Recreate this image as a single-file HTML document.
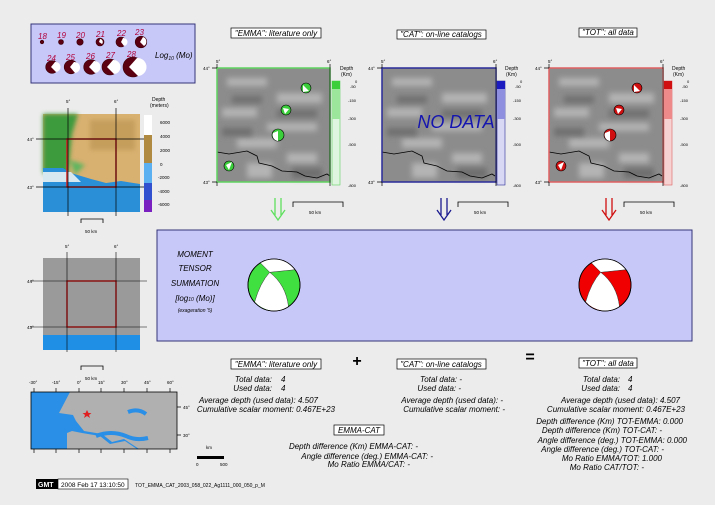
<!DOCTYPE html>
<html><head><meta charset="utf-8"><style>
html,body{margin:0;padding:0;background:#ececec;}
svg{display:block;font-family:"Liberation Sans",sans-serif;}
.i{font-style:italic;}
</style></head><body>
<svg width="715" height="505" viewBox="0 0 715 505" xmlns="http://www.w3.org/2000/svg">
<defs>
<filter id="bl"><feGaussianBlur stdDeviation="3"/></filter>
<filter id="bl2"><feGaussianBlur stdDeviation="2"/></filter>
<g id="gmap">
<rect x="0" y="0" width="113" height="114" fill="#8c8c8c"/>
<g filter="url(#bl)" fill="#b4b4b4">
<rect x="10" y="10" width="40" height="8"/><rect x="60" y="25" width="45" height="10"/>
<rect x="5" y="40" width="35" height="9"/><rect x="50" y="55" width="50" height="8"/>
<rect x="20" y="70" width="40" height="10"/><rect x="70" y="85" width="30" height="10"/>
<rect x="30" y="95" width="25" height="15"/>
</g>
<g filter="url(#bl)" fill="#6e6e6e">
<rect x="15" y="28" width="30" height="7"/><rect x="60" y="42" width="40" height="7"/>
<rect x="5" y="60" width="30" height="8"/><rect x="75" y="100" width="30" height="10"/>
</g>
<path d="M0,84 L12,86 L30,83 L40,88 L42,95 L55,98 L65,103 L80,104 L88,108 L100,110 L110,106 L113,108" fill="none" stroke="#000" stroke-width="0.8"/>
</g>
<g id="bb">
<circle r="26" stroke="#000" stroke-width="0.8"/>
<path d="M-13.6,-22.1 A26,26 0 0 1 21,-15.3 L-4.3,-12.7 Z" fill="#fff"/>
<path d="M-19.3,16.7 Q-14,-2 -4.3,-12.7 Q12,0 14.5,21.6 A26,26 0 0 1 -19.3,16.7 Z" fill="#fff"/>
<path d="M-13.6,-22.1 L-4.3,-12.7 L21,-15.3 M-19.3,16.7 Q-14,-2 -4.3,-12.7 Q12,0 14.5,21.6" fill="none" stroke="#333" stroke-width="0.5"/>
<circle r="26" fill="none" stroke="#000" stroke-width="0.8"/>
</g>
</defs>

<!-- legend box -->
<rect x="31" y="24" width="164" height="59" fill="#c8c8f8" stroke="#33337a" stroke-width="1"/>
<g font-size="8" fill="#b0003a" class="i">
<text x="38" y="39">18</text><text x="57" y="38">19</text><text x="76" y="38">20</text><text x="96" y="37">21</text><text x="117" y="36">22</text><text x="135" y="35">23</text>
<text x="47" y="61">24</text><text x="66" y="60">25</text><text x="86" y="59">26</text><text x="106" y="58">27</text><text x="127" y="57">28</text>
</g>
<g fill="#5a0010" stroke="#3a0008" stroke-width="0.6">
<circle cx="42" cy="42" r="1.8"/><circle cx="61" cy="42" r="2.5"/><circle cx="80" cy="42" r="3.2"/><circle cx="100" cy="42" r="4"/><circle cx="121" cy="42" r="5"/><circle cx="141" cy="42" r="5.8"/>
<circle cx="52" cy="67" r="6.3"/><circle cx="71" cy="67" r="6.8"/><circle cx="91" cy="67" r="7.3"/><circle cx="110" cy="67" r="8"/><circle cx="133" cy="67" r="10"/>
</g>
<g fill="#fff">
<path d="M100,39 a3,3 0 0 1 2,5 l-3,-2z"/><path d="M123,38 a4,4 0 0 1 1,8 l-3,-4z"/><path d="M143,37 a5,5 0 0 1 1,9 l-4,-4z"/>
<path d="M55,62 a5,5 0 0 1 1,10 l-5,-5z"/><path d="M74,62 a5.5,5.5 0 0 1 1,11 l-5,-6z"/><path d="M94,61 a6,6 0 0 1 1,12 l-6,-6z"/><path d="M113,60 a7,7 0 0 1 1,14 l-7,-7z"/><path d="M137,58 a9,9 0 0 1 1,18 l-9,-9z"/>
</g>
<text x="155" y="58" font-size="8" class="i">Log<tspan font-size="5" dy="2">10</tspan><tspan dy="-2"> (Mo)</tspan></text>

<!-- titles -->
<rect x="231" y="28" width="90" height="10" fill="#fff" stroke="#000" stroke-width="0.7"/>
<text x="276" y="36" font-size="8" text-anchor="middle" class="i">"EMMA": literature only</text>
<rect x="397" y="30" width="89" height="9" fill="#fff" stroke="#000" stroke-width="0.7"/>
<text x="441" y="37" font-size="8" text-anchor="middle" class="i">"CAT": on-line catalogs</text>
<rect x="579" y="28" width="58" height="9" fill="#fff" stroke="#000" stroke-width="0.7"/>
<text x="608" y="35" font-size="8" text-anchor="middle" class="i">"TOT": all data</text>

<!-- three maps -->
<g transform="translate(217,68)"><use href="#gmap"/><rect width="113" height="114" fill="none" stroke="#5fd35f" stroke-width="1.5"/></g>
<g transform="translate(382,68)"><use href="#gmap"/><rect width="114" height="114" fill="none" stroke="#2a2a9a" stroke-width="1.5"/></g>
<g transform="translate(549,68)"><use href="#gmap"/><rect width="114" height="114" fill="none" stroke="#e06060" stroke-width="1.5"/></g>
<g stroke="#000" stroke-width="0.7">
<path d="M212,68 h5 M212,182 h5 M330,64 v122 M217,64 v4 M217,182 v4"/>
<path d="M377,68 h5 M377,182 h5 M496,64 v122 M382,64 v4 M382,182 v4"/>
<path d="M544,68 h5 M544,182 h5 M663,64 v122 M549,64 v4 M549,182 v4"/>
</g>
<g font-size="4.5">
<text x="216" y="63">5°</text><text x="327" y="63">6°</text><text x="203" y="70">44°</text><text x="203" y="184">43°</text>
<text x="381" y="63">5°</text><text x="493" y="63">6°</text><text x="368" y="70">44°</text><text x="368" y="184">43°</text>
<text x="548" y="63">5°</text><text x="660" y="63">6°</text><text x="535" y="70">44°</text><text x="535" y="184">43°</text>
</g>
<text x="456" y="128" font-size="18" fill="#1515b0" text-anchor="middle" class="i">NO DATA</text>

<!-- beachballs small -->
<g stroke="#000" stroke-width="0.6">
<circle cx="306" cy="88" r="5" fill="#3bcf3b"/><circle cx="286" cy="110" r="5" fill="#3bcf3b"/><circle cx="278" cy="135" r="6" fill="#3bcf3b"/><circle cx="229" cy="166" r="5" fill="#3bcf3b"/>
<circle cx="637" cy="88" r="5" fill="#d01010"/><circle cx="619" cy="110" r="5" fill="#d01010"/><circle cx="610" cy="135" r="6" fill="#d01010"/><circle cx="561" cy="166" r="5" fill="#d01010"/>
</g>
<g fill="#fff">
<path d="M303,85 l6,6 l-6,1z"/><path d="M283,108 l6,1 l-4,5z"/><path d="M273,133 l5,-2 l0,10 a6,6 0 0 1 -5,-8z"/><path d="M226,165 l6,-3 l-3,8z"/>
<path d="M634,85 l6,6 l-6,1z"/><path d="M616,108 l6,1 l-4,5z"/><path d="M605,133 l5,-2 l0,10 a6,6 0 0 1 -5,-8z"/><path d="M558,165 l6,-3 l-3,8z"/>
</g>

<!-- colorbars -->
<rect x="332" y="81" width="8" height="104" fill="#dff5df" stroke="#5fd35f" stroke-width="0.6"/><rect x="332" y="81" width="8" height="8" fill="#3bcf3b"/><rect x="332" y="89" width="8" height="30" fill="#9be69b"/>
<rect x="497" y="81" width="8" height="104" fill="#d8d8f4" stroke="#2a2a9a" stroke-width="0.6"/><rect x="497" y="81" width="8" height="8" fill="#1a1ac0"/><rect x="497" y="89" width="8" height="30" fill="#8f8fe0"/>
<rect x="664" y="81" width="8" height="104" fill="#f6d2d2" stroke="#e06060" stroke-width="0.6"/><rect x="664" y="81" width="8" height="8" fill="#d01010"/><rect x="664" y="89" width="8" height="30" fill="#ee8a8a"/>
<g font-size="5">
<text x="340" y="70">Depth</text><text x="341" y="76">(Km)</text>
<text x="505" y="70">Depth</text><text x="506" y="76">(Km)</text>
<text x="672" y="70">Depth</text><text x="673" y="76">(Km)</text>
</g>
<g font-size="4">
<text x="355" y="83">0</text><text x="350" y="88">-50</text><text x="348" y="102">-150</text><text x="348" y="120">-300</text><text x="348" y="146">-500</text><text x="348" y="187">-800</text>
<text x="520" y="83">0</text><text x="515" y="88">-50</text><text x="513" y="102">-150</text><text x="513" y="120">-300</text><text x="513" y="146">-500</text><text x="513" y="187">-800</text>
<text x="687" y="83">0</text><text x="682" y="88">-50</text><text x="680" y="102">-150</text><text x="680" y="120">-300</text><text x="680" y="146">-500</text><text x="680" y="187">-800</text>
</g>

<!-- arrows -->
<g fill="none" stroke-width="1.3">
<path d="M275,198 v17 M281,198 v17 M271,210 l7,10 l7,-10" stroke="#5fe05f"/>
<path d="M441,198 v17 M447,198 v17 M437,210 l7,10 l7,-10" stroke="#1a1a90"/>
<path d="M606,198 v17 M612,198 v17 M602,210 l7,10 l7,-10" stroke="#d01010"/>
</g>
<g stroke="#000" stroke-width="0.8" fill="none"><path d="M293,207 v-5 h50 v5 M458,207 v-5 h50 v5 M624,207 v-5 h50 v5 M81,223 v-4 h22 v4"/></g>
<g font-size="4.5"><text x="309" y="214">50 km</text><text x="474" y="214">50 km</text><text x="640" y="214">50 km</text><text x="85" y="233">50 km</text></g>

<!-- left topo map -->
<rect x="43" y="114" width="97" height="98" fill="#d8b070"/>
<g filter="url(#bl2)">
<path d="M43,114 h35 l-6,20 l-4,40 h-25z" fill="#3c9a3c"/>
<path d="M70,160 l15,5 l-10,10z" fill="#5fb55f"/>
<rect x="90" y="120" width="45" height="30" fill="#b8924e" opacity="0.6"/>
</g>
<path d="M43,168 h20 l8,5 l20,6 l15,4 l15,-2 l19,3 v28 h-97z" fill="#2a8fd6"/>
<path d="M43,172 h28 l10,10 h-38z" fill="#d8e8f0"/>
<rect x="67" y="139" width="49" height="48" fill="none" stroke="#d02020" stroke-width="1.5"/>
<g stroke="#000" stroke-width="0.7"><path d="M68,108 v108 M116,108 v108 M36,139 h108 M36,187 h108"/></g>
<g font-size="4.5"><text x="66" y="103">5°</text><text x="114" y="103">6°</text><text x="27" y="141">44°</text><text x="27" y="189">43°</text></g>
<rect x="144" y="115" width="8" height="97" fill="#ccc"/>
<rect x="144" y="115" width="8" height="20" fill="#fff"/><rect x="144" y="135" width="8" height="28" fill="#b08a40"/><rect x="144" y="163" width="8" height="20" fill="#5ab0f0"/><rect x="144" y="183" width="8" height="28" fill="#3050d0"/><rect x="144" y="200" width="8" height="12" fill="#7a20c0"/>
<text x="152" y="101" font-size="5">Depth</text><text x="150" y="107" font-size="5">(meters)</text>
<g font-size="4.5"><text x="160" y="124">6000</text><text x="160" y="138">4000</text><text x="160" y="152">2000</text><text x="160" y="166">0</text><text x="158" y="179">-2000</text><text x="158" y="193">-4000</text><text x="158" y="206">-6000</text></g>

<!-- second left map -->
<rect x="43" y="258" width="97" height="92" fill="#9a9a9a"/>
<path d="M43,335 L55,338 L70,340 L80,344 L95,343 L110,350 L140,347 V350 H43z" fill="#1f8fe6"/>
<rect x="43" y="335" width="97" height="15" fill="#1f8fe6"/>
<rect x="67" y="281" width="49" height="46" fill="none" stroke="#d02020" stroke-width="1.5"/>
<g stroke="#000" stroke-width="0.6"><path d="M67,252 v100 M116,252 v100 M30,281 h117 M30,327 h117"/></g>
<g font-size="4.5"><text x="65" y="248">5°</text><text x="114" y="248">6°</text><text x="27" y="283">44°</text><text x="27" y="329">43°</text></g>
<path d="M81,370 v-4 h22 v4" stroke="#000" stroke-width="0.8" fill="none"/>
<text x="85" y="380" font-size="4.5">50 km</text>

<!-- summation box -->
<rect x="157" y="230" width="535" height="111" fill="#c8c8f8" stroke="#33337a" stroke-width="1"/>
<g font-size="8" class="i" text-anchor="middle"><text x="195" y="257">MOMENT</text><text x="195" y="271">TENSOR</text><text x="195" y="286">SUMMATION</text><text x="195" y="301">[log<tspan font-size="5">10</tspan> (Mo)]</text><text x="195" y="312" font-size="5">(exageration '5)</text></g>
<use href="#bb" x="274" y="285" fill="#3fe03f"/>
<use href="#bb" x="605" y="285" fill="#f00000"/>

<!-- world map -->
<rect x="31" y="392" width="146" height="57" fill="#2a8fe6"/>
<path d="M70,392 h107 v57 h-38 l-15,-10 l-12,3 l-10,-8 l-18,-3 l-8,-10 l-3,-6 l-14,-2 z" fill="#b0b0b0"/>
<path d="M72,431 l-5,2 l0,16 h70 l-12,-8 l-15,3 l-10,-8 l-18,-3z" fill="#b0b0b0"/>
<path d="M96,436 q15,-6 30,0 q10,5 22,2 M128,412 q10,-4 18,2" fill="none" stroke="#2a8fe6" stroke-width="4"/>
<rect x="31" y="392" width="146" height="57" fill="none" stroke="#000" stroke-width="0.8"/>
<path d="M87,410 l1.5,3 3,0 -2.5,2 1,3 -3,-2 -3,2 1,-3 -2.5,-2 3,0z" fill="#e02020"/>
<g stroke="#000" stroke-width="0.7"><path d="M34,388 v4 M56,388 v4 M79,388 v4 M101,388 v4 M124,388 v4 M147,388 v4 M170,388 v4 M34,449 v4 M56,449 v4 M79,449 v4 M101,449 v4 M124,449 v4 M147,449 v4 M170,449 v4 M177,407 h4 M177,435 h4"/></g>
<g font-size="4.5"><text x="29" y="384">-30°</text><text x="52" y="384">-15°</text><text x="77" y="384">0°</text><text x="98" y="384">15°</text><text x="121" y="384">30°</text><text x="144" y="384">45°</text><text x="167" y="384">60°</text><text x="183" y="409">45°</text><text x="183" y="437">30°</text></g>
<rect x="197" y="456" width="27" height="3" fill="#000"/><text x="196" y="466" font-size="4.5">0</text><text x="220" y="466" font-size="4.5">500</text><text x="206" y="449" font-size="4.5">km</text>

<!-- text columns -->
<g font-size="8" class="i">
<rect x="231" y="359" width="90" height="10" fill="#fff" stroke="#000" stroke-width="0.7"/>
<text x="276" y="367" text-anchor="middle">"EMMA": literature only</text>
<text x="272" y="382" text-anchor="end">Total data:</text><text x="281" y="382">4</text>
<text x="272" y="391" text-anchor="end">Used data:</text><text x="281" y="391">4</text>
<text x="318" y="403" text-anchor="end">Average depth (used data):   4.507</text>
<text x="335" y="412" text-anchor="end">Cumulative scalar moment: 0.467E+23</text>
<text x="357" y="366" font-size="16" font-style="normal" font-weight="bold" text-anchor="middle">+</text>
<rect x="397" y="359" width="89" height="10" fill="#fff" stroke="#000" stroke-width="0.7"/>
<text x="441" y="367" text-anchor="middle">"CAT": on-line catalogs</text>
<text x="462" y="382" text-anchor="end">Total data: -</text>
<text x="461" y="391" text-anchor="end">Used data: -</text>
<text x="503" y="403" text-anchor="end">Average depth (used data): -</text>
<text x="505" y="412" text-anchor="end">Cumulative scalar moment: -</text>
<text x="530" y="362" font-size="16" font-style="normal" font-weight="bold" text-anchor="middle">=</text>
<rect x="579" y="358" width="58" height="10" fill="#fff" stroke="#000" stroke-width="0.7"/>
<text x="608" y="366" text-anchor="middle">"TOT": all data</text>
<text x="620" y="382" text-anchor="end">Total data:</text><text x="628" y="382">4</text>
<text x="620" y="391" text-anchor="end">Used data:</text><text x="628" y="391">4</text>
<text x="680" y="403" text-anchor="end">Average depth (used data):   4.507</text>
<text x="685" y="412" text-anchor="end">Cumulative scalar moment: 0.467E+23</text>
<text x="683" y="424" text-anchor="end">Depth difference (Km) TOT-EMMA:   0.000</text>
<text x="662" y="433" text-anchor="end">Depth difference (Km) TOT-CAT: -</text>
<text x="687" y="443" text-anchor="end">Angle difference (deg.) TOT-EMMA:   0.000</text>
<text x="664" y="452" text-anchor="end">Angle difference (deg.) TOT-CAT: -</text>
<text x="662" y="461" text-anchor="end">Mo Ratio EMMA/TOT:   1.000</text>
<text x="644" y="470" text-anchor="end">Mo Ratio CAT/TOT: -</text>
<rect x="334" y="425" width="50" height="10" fill="#fff" stroke="#000" stroke-width="0.7"/>
<text x="359" y="433" text-anchor="middle">EMMA-CAT</text>
<text x="418" y="449" text-anchor="end">Depth difference (Km) EMMA-CAT: -</text>
<text x="433" y="459" text-anchor="end">Angle difference (deg.) EMMA-CAT: -</text>
<text x="410" y="467" text-anchor="end">Mo Ratio EMMA/CAT: -</text>
</g>

<!-- footer -->
<rect x="36" y="479" width="22" height="10" fill="#000"/><text x="38" y="487" font-size="7" fill="#fff" font-weight="bold">GMT</text>
<rect x="58" y="479" width="70" height="10" fill="#fff" stroke="#000" stroke-width="0.6"/>
<text x="61" y="487" font-size="6.5">2008 Feb 17 13:10:50</text>
<text x="135" y="487" font-size="5">TOT_EMMA_CAT_2003_058_022_Ag1111_000_050_p_M</text>
</svg>
</body></html>
